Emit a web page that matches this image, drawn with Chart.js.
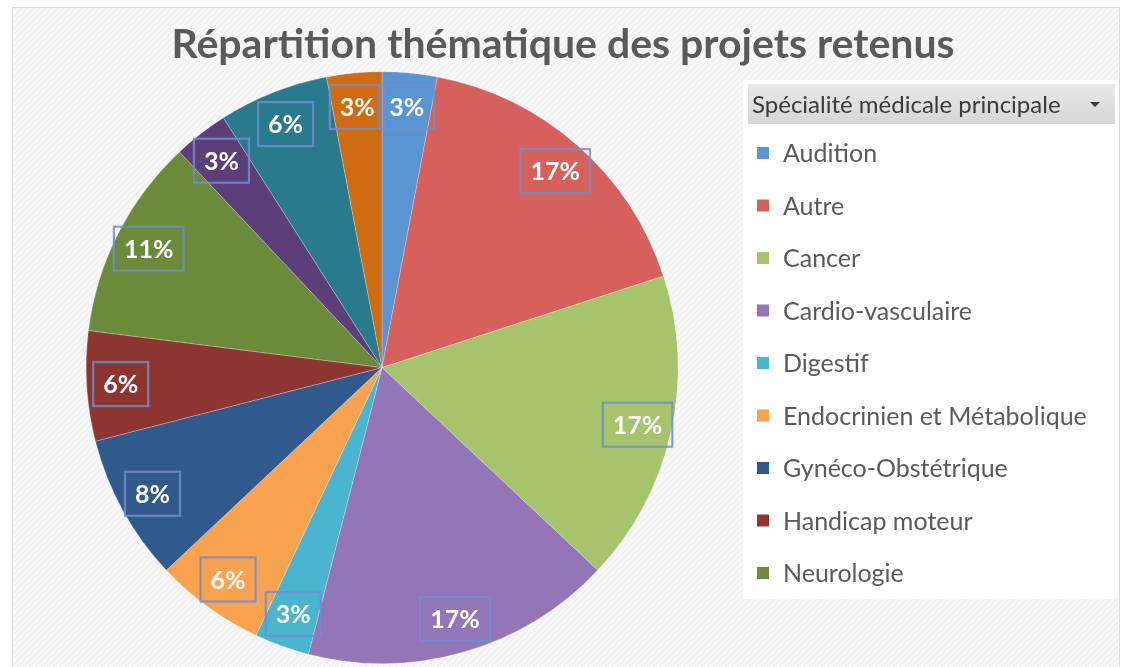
<!DOCTYPE html>
<html lang="fr">
<head>
<meta charset="utf-8">
<title>Répartition thématique des projets retenus</title>
<script src="https://cdn.jsdelivr.net/npm/chart.js@4/dist/chart.umd.min.js"></script>
<style>
  html, body { margin: 0; padding: 0; background: #ffffff; }
  #wrap { width: 1126px; height: 667px; }
</style>
</head>
<body>
<div id="wrap"><canvas id="graphique" width="1126" height="667"></canvas></div>
<script>
// Données (pourcentages)
const categories = [
    'Audition', 'Autre', 'Cancer', 'Cardio-vasculaire', 'Digestif',
    'Endocrinien et Métabolique', 'Gynéco-Obstétrique', 'Handicap moteur',
    'Neurologie', 'Ophtalmologie', 'Pédiatrie', 'Psychiatrie'
];
const parts = [3, 17, 17, 17, 3, 6, 8, 6, 11, 3, 6, 3];
const couleurs = [
    '#5b94d3', '#d6615c', '#a6c46b', '#9376b8', '#4bb5cf', '#f9a351',
    '#30598c', '#8d3631', '#6b8b3a', '#5c3f78', '#2a7a8e', '#cf6b13'
];
const nbLegende = 9; // seules les 9 premières entrées sont visibles dans la légende
const titreLegende = 'Spécialité médicale principale';

// motif hachuré du fond
function motifFond(ctx) {
    const c = document.createElement('canvas');
    c.width = 6; c.height = 6;
    const g = c.getContext('2d');
    g.fillStyle = '#f7f7f7';
    g.fillRect(0, 0, 6, 6);
    g.strokeStyle = '#ececec';
    g.lineWidth = 1;
    g.beginPath();
    g.moveTo(0, 6); g.lineTo(6, 0);
    g.moveTo(-1, 1); g.lineTo(1, -1);
    g.moveTo(5, 7); g.lineTo(7, 5);
    g.stroke();
    return ctx.createPattern(c, 'repeat');
}

const pluginFond = {
    id: 'fond',
    beforeDraw(chart) {
        const ctx = chart.ctx;
        ctx.save();
        ctx.fillStyle = motifFond(ctx);
        ctx.fillRect(12, 7, 1108, 670);
        ctx.strokeStyle = '#dcdcdc';
        ctx.lineWidth = 1;
        ctx.strokeRect(12.5, 7.5, 1107, 670);
        ctx.restore();
    }
};

// décale la zone du camembert vers la gauche (la légende occupe la droite)
const pluginZone = {
    id: 'zone',
    afterLayout(chart) {
        const a = chart.chartArea;
        a.right = 764;
        a.width = a.right - a.left;
    }
};

const pluginEtiquettes = {
    id: 'etiquettes',
    afterDatasetsDraw(chart) {
        const ctx = chart.ctx;
        const meta = chart.getDatasetMeta(0);
        ctx.save();
        ctx.font = 'bold 25px Lato';
        ctx.textAlign = 'center';
        ctx.textBaseline = 'middle';
        meta.data.forEach((arc, i) => {
            const p = arc.getProps(['x', 'y', 'startAngle', 'endAngle', 'outerRadius'], true);
            const mid = (p.startAngle + p.endAngle) / 2;
            const r = p.outerRadius * 0.885;
            const lx = p.x + Math.cos(mid) * r;
            const ly = p.y + Math.sin(mid) * r;
            const txt = parts[i] + '%';
            const w = ctx.measureText(txt).width + 20;
            const h = 44;
            ctx.strokeStyle = 'rgba(112, 142, 204, 0.85)';
            ctx.lineWidth = 2.2;
            ctx.strokeRect(lx - w / 2, ly - h / 2, w, h);
            ctx.fillStyle = '#ffffff';
            ctx.fillText(txt, lx, ly + 1);
        });
        ctx.restore();
    }
};

const pluginLegende = {
    id: 'legende',
    afterDraw(chart) {
        const ctx = chart.ctx;
        ctx.save();
        // cadre blanc
        ctx.fillStyle = '#ffffff';
        ctx.fillRect(743, 80, 376, 519);
        // bouton de champ
        const grad = ctx.createLinearGradient(0, 84, 0, 124);
        grad.addColorStop(0, '#e9e9e9');
        grad.addColorStop(1, '#d6d6d6');
        ctx.fillStyle = grad;
        ctx.fillRect(748, 84, 367, 40);
        ctx.fillStyle = '#3a3a3a';
        ctx.font = '24px Lato';
        ctx.textBaseline = 'middle';
        ctx.textAlign = 'left';
        ctx.fillText(titreLegende, 752, 105);
        ctx.beginPath();
        ctx.moveTo(1090, 102); ctx.lineTo(1100, 102); ctx.lineTo(1095, 107);
        ctx.closePath();
        ctx.fill();
        // entrées
        ctx.font = '25px Lato';
        for (let i = 0; i < nbLegende; i++) {
            const y = 153 + i * 52.5;
            ctx.fillStyle = couleurs[i];
            ctx.fillRect(757, y - 6, 12, 12);
            ctx.fillStyle = '#5a5a5a';
            ctx.fillText(categories[i], 783, y + 1);
        }
        ctx.restore();
    }
};

const ctx = document.getElementById('graphique').getContext('2d');
const graphique = new Chart(ctx, {
    type: 'pie',
    data: {
        labels: categories,
        datasets: [{
            data: parts,
            backgroundColor: couleurs,
            borderColor: 'rgba(255, 255, 255, 0.25)',
            borderWidth: 1
        }]
    },
    options: {
        responsive: false,
        animation: false,
        layout: { padding: { top: 0, bottom: 3, left: 0, right: 0 } },
        plugins: {
            legend: { display: false },
            tooltip: { enabled: false },
            title: {
                display: true,
                text: 'Répartition thématique des projets retenus',
                color: '#5a5a5a',
                font: { family: 'Lato', size: 41, weight: 'bold' },
                padding: { top: 20, bottom: 2 }
            }
        }
    },
    plugins: [pluginFond, pluginZone, pluginEtiquettes, pluginLegende]
});
</script>
</body>
</html>
